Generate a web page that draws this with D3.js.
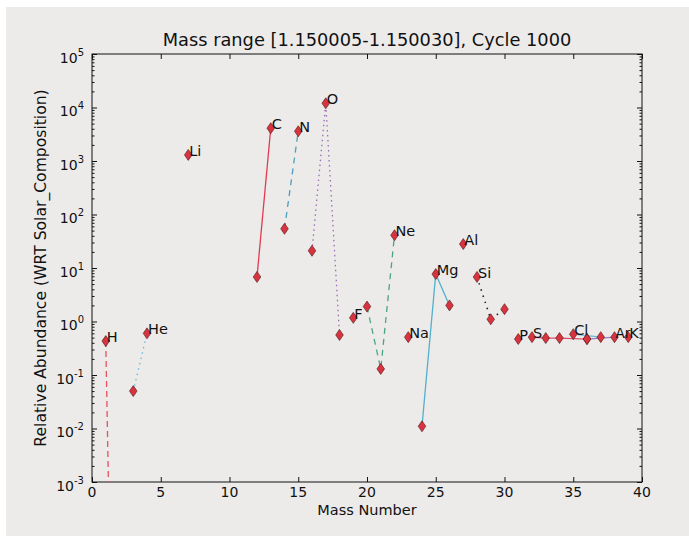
<!DOCTYPE html>
<html>
<head>
<meta charset="utf-8">
<script src="https://cdn.jsdelivr.net/npm/d3@7"></script>
<style>
  body { margin: 0; background: #ffffff; }
  svg { display: block; font-family: "DejaVu Sans", sans-serif; }
</style>
</head>
<body>
<div id="chart"></div>
<script>
// Isotope data, one entry per element (mass numbers and abundances)
var elements = ['H', 'He', 'Li', 'C', 'N', 'O', 'F', 'Ne', 'Na', 'Mg', 'Al', 'Si', 'P', 'S', 'Cl', 'Ar', 'K'];
var isoMasses = [[1, 2], [3, 4], [7], [12, 13], [14, 15], [16, 17, 18], [19], [20, 21, 22], [23],
                 [24, 25, 26], [27], [28, 29, 30], [31], [32, 33, 34, 36], [35, 37], [36, 38], [39]];
var isoAbund = [[0.43, 1e-14], [0.05, 0.6], [1300], [6.8, 4100], [54, 3600], [21, 12000, 0.56], [1.17],
                [1.9, 0.13, 41], [0.51], [0.011, 7.7, 2.0], [28], [6.8, 1.1, 1.7], [0.47],
                [0.51, 0.49, 0.49, 0.47], [0.58, 0.51], [0.47, 0.51], [0.51]];
// line look per element: colour, dash pattern
var lineColors = ['#e8515f', '#6ab8d8', '#e8515f', '#e03a50', '#4a9fc0', '#9a6cb4', '#4ca582', '#4ca582', '#e8515f',
                  '#52b0cc', '#52b0cc', '#222222', '#e03a50', '#e0506a', '#6fb8d4', '#9a7cc4', '#e03a50'];
var lineDashes = ['6,4', '1.5,4', null, null, '6,5', '1.5,3.5', null, '6,5', null,
                  null, null, '1.5,5', null, null, null, null, null];

var xTicks = [0, 5, 10, 15, 20, 25, 30, 35, 40];
var yTickExps = [-3, -2, -1, 0, 1, 2, 3, 4, 5];

var margin = {top: 54, right: 47, bottom: 54, left: 92},
    fullW = 689, fullH = 536,
    width = fullW - margin.left - margin.right,
    height = fullH - margin.top - margin.bottom;

var xScale = d3.scaleLinear().domain([0, 40]).range([0, width]);
var yScale = d3.scaleLog().domain([1e-3, 1e5]).range([height, 0]);

var svg = d3.select('#chart').append('svg')
    .attr('width', fullW)
    .attr('height', fullH);

// paper background
svg.append('rect')
    .attr('x', 6).attr('y', 7)
    .attr('width', fullW - 6).attr('height', fullH - 7)
    .attr('fill', '#ecebea');

var g = svg.append('g')
    .attr('transform', 'translate(' + margin.left + ',' + margin.top + ')');

g.append('clipPath').attr('id', 'plotclip')
  .append('rect').attr('width', width).attr('height', height);

// ticks (inward, on all four sides)
var xTop = d3.axisTop(xScale).tickValues(xTicks).tickSize(-5).tickFormat('');
var xBot = d3.axisBottom(xScale).tickValues(xTicks).tickSize(-5).tickFormat('');
g.append('g').attr('class', 'x-axis').call(xTop);
g.append('g').attr('class', 'x-axis').attr('transform', 'translate(0,' + height + ')').call(xBot);

var minorVals = [];
yTickExps.slice(0, -1).forEach(function (e) {
  for (var k = 2; k < 10; k++) minorVals.push(k * Math.pow(10, e));
});
var majorVals = yTickExps.map(function (e) { return Math.pow(10, e); });

[[d3.axisLeft, 0], [d3.axisRight, width]].forEach(function (a) {
  g.append('g').attr('transform', 'translate(' + a[1] + ',0)')
    .call(a[0](yScale).tickValues(majorVals).tickSize(-5).tickFormat(''));
  g.append('g').attr('transform', 'translate(' + a[1] + ',0)')
    .call(a[0](yScale).tickValues(minorVals).tickSize(-2.5).tickFormat(''));
});
g.selectAll('.domain').remove();
g.selectAll('.tick line').attr('stroke', '#111').attr('stroke-width', 1);

// frame
g.append('rect')
    .attr('width', width).attr('height', height)
    .attr('fill', 'none').attr('stroke', '#111').attr('stroke-width', 1);

// tick labels
g.selectAll('.xlab').data(xTicks).enter().append('text')
    .attr('x', function (d) { return xScale(d); })
    .attr('y', height + 15)
    .attr('text-anchor', 'middle')
    .attr('font-size', '14px')
    .attr('fill', '#111')
    .text(function (d) { return d; });

var ylab = g.selectAll('.ylab').data(yTickExps).enter().append('text')
    .attr('x', -8)
    .attr('y', function (d) { return yScale(Math.pow(10, d)) + 8.5; })
    .attr('text-anchor', 'end')
    .attr('font-size', '14px')
    .attr('fill', '#111');
ylab.append('tspan').text('10');
ylab.append('tspan').attr('dy', -7).attr('font-size', '10px').text(function (d) { return d; });

// lines and markers
var plot = g.append('g').attr('clip-path', 'url(#plotclip)');
var line = d3.line()
    .x(function (d) { return xScale(d[0]); })
    .y(function (d) { return yScale(d[1]); });

elements.forEach(function (el, i) {
  var pts = isoMasses[i].map(function (m, j) { return [m, isoAbund[i][j]]; });
  if (pts.length > 1) {
    plot.append('path')
        .attr('d', line(pts))
        .attr('fill', 'none')
        .attr('stroke', lineColors[i])
        .attr('stroke-width', i === 11 ? 1.6 : 1.3)
        .attr('stroke-dasharray', lineDashes[i]);
  }
});

elements.forEach(function (el, i) {
  var pts = isoMasses[i].map(function (m, j) { return [m, isoAbund[i][j]]; });
  plot.selectAll(null).data(pts).enter().append('path')
      .attr('transform', function (d) { return 'translate(' + xScale(d[0]) + ',' + yScale(d[1]) + ')'; })
      .attr('d', 'M0,-5.5L3.8,0L0,5.5L-3.8,0Z')
      .attr('fill', '#d8333f')
      .attr('stroke', '#4a1a1a')
      .attr('stroke-width', 0.6);
  var top = pts.reduce(function (a, b) { return b[1] > a[1] ? b : a; });
  g.append('text')
      .attr('x', xScale(top[0]) + 1)
      .attr('y', yScale(top[1]) + 1)
      .attr('font-size', el === 'Ar' ? '13.5px' : '14.5px')
      .attr('fill', '#111')
      .text(el);
});

// titles
svg.append('text')
    .attr('x', margin.left + width / 2)
    .attr('y', 46)
    .attr('text-anchor', 'middle')
    .attr('font-size', '17.8px')
    .attr('fill', '#111')
    .text('Mass range [1.150005-1.150030], Cycle 1000');

svg.append('text')
    .attr('x', margin.left + width / 2)
    .attr('y', 515)
    .attr('text-anchor', 'middle')
    .attr('font-size', '14.5px')
    .attr('fill', '#111')
    .text('Mass Number');

svg.append('text')
    .attr('transform', 'translate(46,' + (margin.top + height / 2) + ') rotate(-90)')
    .attr('text-anchor', 'middle')
    .attr('font-size', '15.6px')
    .attr('fill', '#111')
    .text('Relative Abundance (WRT Solar_Composition)');
</script>
</body>
</html>
